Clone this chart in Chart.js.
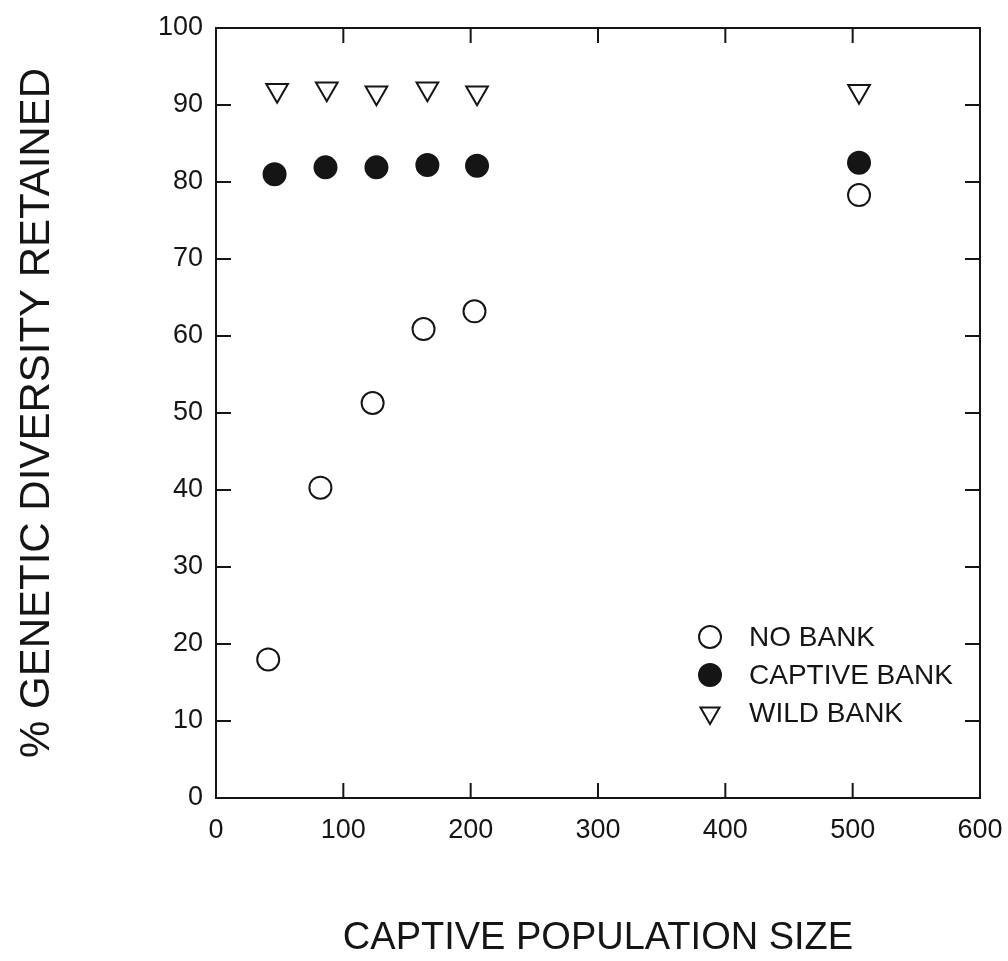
<!DOCTYPE html>
<html>
<head>
<meta charset="utf-8">
<title>Genetic diversity retained</title>
<script src="https://cdn.jsdelivr.net/npm/chart.js"></script>
<style>
  body { margin: 0; background: #fff; }
  #wrap { width: 1008px; height: 961px; }
</style>
</head>
<body>
<div id="wrap"><canvas id="myChart"></canvas></div>
<script>
// values
const noBankX = [41, 82, 123, 163, 203, 505];
const noBankY = [18, 40.3, 51.3, 60.9, 63.2, 78.3];
const captiveX = [46, 86, 126, 166, 205, 505];
const captiveY = [81, 81.9, 81.9, 82.2, 82.1, 82.5];
const wildX = [48, 87, 126, 166, 205, 505];
const wildY = [91.9, 92.1, 91.6, 92.1, 91.6, 91.8];

const xTicks = [0, 100, 200, 300, 400, 500, 600];
const yTicks = [0, 10, 20, 30, 40, 50, 60, 70, 80, 90, 100];

const seriesNames = ['NO BANK', 'CAPTIVE BANK', 'WILD BANK'];

const ink = '#151515';
const family = "'Liberation Sans', Arial, sans-serif";

function pairs(xs, ys) {
  return xs.map((x, i) => ({ x: x, y: ys[i] }));
}

// inward ticks on all four sides plus the frame
const frameTicks = {
  id: 'frameTicks',
  afterDraw(chart) {
    const ctx = chart.ctx;
    const a = chart.chartArea;
    const xs = chart.scales.x;
    const ys = chart.scales.y;
    const len = 15;
    ctx.save();
    ctx.strokeStyle = ink;
    ctx.lineWidth = 2;
    ctx.strokeRect(a.left, a.top, a.right - a.left, a.bottom - a.top);
    ctx.beginPath();
    xTicks.forEach((v) => {
      const px = xs.getPixelForValue(v);
      ctx.moveTo(px, a.bottom);
      ctx.lineTo(px, a.bottom - len);
      ctx.moveTo(px, a.top);
      ctx.lineTo(px, a.top + len);
    });
    yTicks.forEach((v) => {
      const py = ys.getPixelForValue(v);
      ctx.moveTo(a.left, py);
      ctx.lineTo(a.left + len, py);
      ctx.moveTo(a.right, py);
      ctx.lineTo(a.right - len, py);
    });
    ctx.stroke();
    ctx.restore();
  },
};

// legend sitting inside the plot, lower right
const innerLegend = {
  id: 'innerLegend',
  afterDraw(chart) {
    const ctx = chart.ctx;
    const a = chart.chartArea;
    const left = a.left + 494;
    const top = a.top + 609;
    const step = 38;
    ctx.save();
    chart.data.datasets.forEach((ds, i) => {
      const y = top + i * step;
      ctx.fillStyle = ds.backgroundColor;
      ctx.strokeStyle = ds.borderColor;
      ctx.lineWidth = 2;
      Chart.helpers.drawPoint(ctx, {
        pointStyle: ds.pointStyle,
        rotation: ds.rotation || 0,
        radius: 11,
        borderWidth: 2,
      }, left, y);
      ctx.fillStyle = ink;
      ctx.font = '28px ' + family;
      ctx.textBaseline = 'middle';
      ctx.textAlign = 'left';
      ctx.fillText(seriesNames[i], left + 39, y + 1);
    });
    ctx.restore();
  },
};

const ctx = document.getElementById('myChart').getContext('2d');
const myChart = new Chart(ctx, {
  type: 'scatter',
  data: {
    datasets: [
      {
        label: seriesNames[0],
        data: pairs(noBankX, noBankY),
        pointStyle: 'circle',
        pointRadius: 11,
        borderWidth: 2,
        borderColor: ink,
        backgroundColor: '#ffffff',
      },
      {
        label: seriesNames[1],
        data: pairs(captiveX, captiveY),
        pointStyle: 'circle',
        pointRadius: 11,
        borderWidth: 2,
        borderColor: ink,
        backgroundColor: ink,
      },
      {
        label: seriesNames[2],
        data: pairs(wildX, wildY),
        pointStyle: 'triangle',
        rotation: 180,
        pointRotation: 180,
        pointRadius: 12.5,
        borderWidth: 2,
        borderColor: ink,
        backgroundColor: '#ffffff',
      },
    ],
  },
  options: {
    responsive: true,
    maintainAspectRatio: false,
    animation: false,
    events: [],
    layout: {
      padding: { left: 12, right: 28, top: 28, bottom: 0 },
    },
    plugins: {
      legend: { display: false },
      tooltip: { enabled: false },
    },
    scales: {
      x: {
        type: 'linear',
        min: 0,
        max: 600,
        afterBuildTicks: (scale) => {
          scale.ticks = xTicks.map((v) => ({ value: v }));
        },
        afterFit: (scale) => {
          scale.height = 163;
          scale.paddingLeft = 0;
          scale.paddingRight = 0;
        },
        grid: { display: false, drawTicks: false },
        border: { display: false },
        ticks: {
          color: ink,
          padding: 16,
          maxRotation: 0,
          font: { family: family, size: 27 },
        },
        title: {
          display: true,
          text: 'CAPTIVE POPULATION SIZE',
          color: ink,
          padding: 0,
          font: { family: family, size: 38 },
        },
      },
      y: {
        type: 'linear',
        min: 0,
        max: 100,
        afterBuildTicks: (scale) => {
          scale.ticks = yTicks.map((v) => ({ value: v }));
        },
        afterFit: (scale) => {
          scale.width = 204;
          scale.paddingTop = 0;
          scale.paddingBottom = 0;
        },
        grid: { display: false, drawTicks: false },
        border: { display: false },
        ticks: {
          color: ink,
          padding: 13,
          font: { family: family, size: 27 },
        },
        title: {
          display: true,
          text: '% GENETIC DIVERSITY RETAINED',
          color: ink,
          padding: 0,
          font: { family: family, size: 42 },
        },
      },
    },
  },
  plugins: [frameTicks, innerLegend],
});
</script>
</body>
</html>
